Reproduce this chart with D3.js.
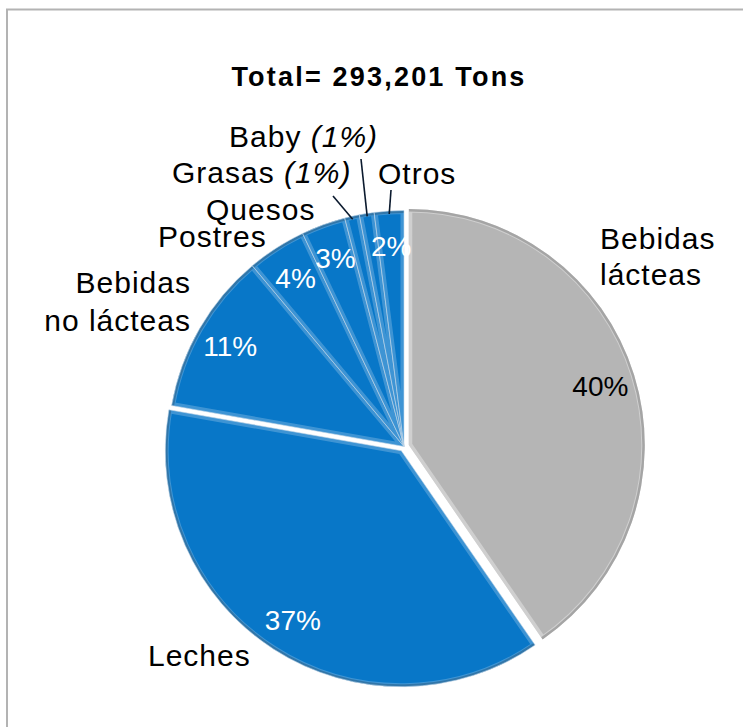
<!DOCTYPE html>
<html>
<head>
<meta charset="utf-8">
<script src="https://cdn.jsdelivr.net/npm/d3@7"></script>
<style>
  html, body { margin: 0; padding: 0; background: #fff; }
  svg { display: block; font-family: "Liberation Sans", Arial, sans-serif; }
</style>
</head>
<body>
<svg id="chart" width="743" height="727"></svg>
<script>
// Product categories, in clockwise order from 12 o'clock
const categories = ["Bebidas lácteas", "Leches", "Bebidas no lácteas", "Postres", "Quesos", "Grasas", "Baby", "Otros"];
// Share of total volume, percent
const shares = [40, 37, 11, 4, 3, 1, 1, 2];
const titleText = "Total= 293,201 Tons";

// Slices pulled out from the centre
const explodedSlices = ["Bebidas lácteas", "Leches"];

// Category label layout: lines, anchor point, alignment, optional leader start
const labelLayout = {
  "Bebidas lácteas":    { lines: [["Bebidas"], ["lácteas"]], x: 600, y: 249, lh: 36, anchor: "start" },
  "Leches":             { lines: [["Leches"]], x: 148, y: 666, lh: 36, anchor: "start" },
  "Bebidas no lácteas": { lines: [["Bebidas"], ["no lácteas"]], x: 191, y: 293, lh: 38, anchor: "end" },
  "Postres":            { lines: [["Postres"]], x: 158, y: 247, lh: 36, anchor: "start" },
  "Quesos":             { lines: [["Quesos"]], x: 206, y: 220, lh: 36, anchor: "start" },
  "Grasas":             { lines: [["Grasas ", "(1%)"]], x: 172, y: 183, lh: 36, anchor: "start", leader: [333, 196] },
  "Baby":               { lines: [["Baby ", "(1%)"]], x: 229, y: 147, lh: 36, anchor: "start", leader: [361, 159] },
  "Otros":              { lines: [["Otros"]], x: 378, y: 184, lh: 36, anchor: "start", leader: [391, 190] }
};
// Slices whose percentage is printed inside the pie
const insideLabels = ["Bebidas lácteas", "Leches", "Bebidas no lácteas", "Postres", "Quesos", "Otros"];

const svg = d3.select("#chart");
const cx = 404, cy = 446.5, radius = 236, explode = 5;
const colors = d3.scaleOrdinal()
  .domain(categories)
  .range(["#b5b5b5"].concat(d3.range(categories.length - 1).map(() => "#0877c8")));

// Chart frame
svg.append("rect")
  .attr("x", 7).attr("y", 9.5).attr("width", 800).attr("height", 800)
  .attr("fill", "none").attr("stroke", "#b3b3b3").attr("stroke-width", 2);

// Title
svg.append("text")
  .attr("x", 379).attr("y", 86)
  .attr("text-anchor", "middle")
  .attr("font-size", 27).attr("font-weight", "bold")
  .attr("letter-spacing", 2.2)
  .attr("fill", "#000")
  .text(titleText);

const pie = d3.pie().sort(null).value(d => d.value).startAngle(0).endAngle(2 * Math.PI);
const arcs = pie(categories.map((c, i) => ({ name: c, value: shares[i] })));

const arc = d3.arc().innerRadius(0).outerRadius(radius);
const rim = d3.arc().innerRadius(radius).outerRadius(radius);
const labelArc = d3.arc().innerRadius(radius * 0.85).outerRadius(radius * 0.85);

const offset = d => {
  if (!explodedSlices.includes(d.data.name)) return [0, 0];
  const a = (d.startAngle + d.endAngle) / 2;
  return [Math.sin(a) * explode, -Math.cos(a) * explode];
};

const pieG = svg.append("g").attr("transform", `translate(${cx},${cy})`);
const defs = svg.append("defs");

const slices = pieG.selectAll("g.slice")
  .data(arcs)
  .join("g")
  .attr("class", "slice")
  .attr("transform", d => `translate(${offset(d)[0]},${offset(d)[1]})`);

slices.each(function (d, i) {
  const g = d3.select(this);
  const id = "clip-slice-" + i;
  defs.append("clipPath").attr("id", id).append("path").attr("d", arc(d));
  const isGray = i === 0;
  g.append("path")
    .attr("d", arc(d))
    .attr("fill", colors(d.data.name));
  // bevel highlight along the slice edges
  g.append("path")
    .attr("d", arc(d))
    .attr("fill", "none")
    .attr("stroke", "#ffffff")
    .attr("stroke-opacity", isGray ? 0.35 : 0.22)
    .attr("stroke-width", 7)
    .attr("clip-path", `url(#${id})`);
  // darker outer rim
  g.append("path")
    .attr("d", rim(d))
    .attr("fill", "none")
    .attr("stroke", "#000")
    .attr("stroke-opacity", 0.2)
    .attr("stroke-width", 5)
    .attr("clip-path", `url(#${id})`);
  // thin separators between adjoining blue slices
  if (!isGray) {
    g.append("path")
      .attr("d", arc(d))
      .attr("fill", "none")
      .attr("stroke", "#c9dbe9")
      .attr("stroke-opacity", 0.6)
      .attr("stroke-width", 1);
  }
});

// Percentage labels inside the slices
slices.filter(d => insideLabels.includes(d.data.name))
  .append("text")
  .attr("transform", d => `translate(${labelArc.centroid(d)})`)
  .attr("text-anchor", "middle")
  .attr("dy", "0.36em")
  .attr("font-size", 28)
  .attr("fill", d => d.data.name === categories[0] ? "#000" : "#fff")
  .text(d => d.data.value + "%");

// Category labels and leader lines
const labelG = svg.append("g");
arcs.forEach(d => {
  const L = labelLayout[d.data.name];
  const t = labelG.append("text")
    .attr("font-size", 30)
    .attr("letter-spacing", 1)
    .attr("text-anchor", L.anchor)
    .attr("fill", "#000");
  L.lines.forEach((parts, li) => {
    parts.forEach((p, pi) => {
      const ts = t.append("tspan").text(p);
      if (pi === 0) ts.attr("x", L.x).attr("y", L.y + li * L.lh);
      if (pi > 0) ts.attr("font-style", "italic");
    });
  });
  if (L.leader) {
    const a = (d.startAngle + d.endAngle) / 2;
    const r = radius - 3;
    labelG.append("line")
      .attr("x1", L.leader[0]).attr("y1", L.leader[1])
      .attr("x2", cx + Math.sin(a) * r).attr("y2", cy - Math.cos(a) * r)
      .attr("stroke", "#0b1a2e").attr("stroke-width", 1.6);
  }
});
</script>
</body>
</html>
